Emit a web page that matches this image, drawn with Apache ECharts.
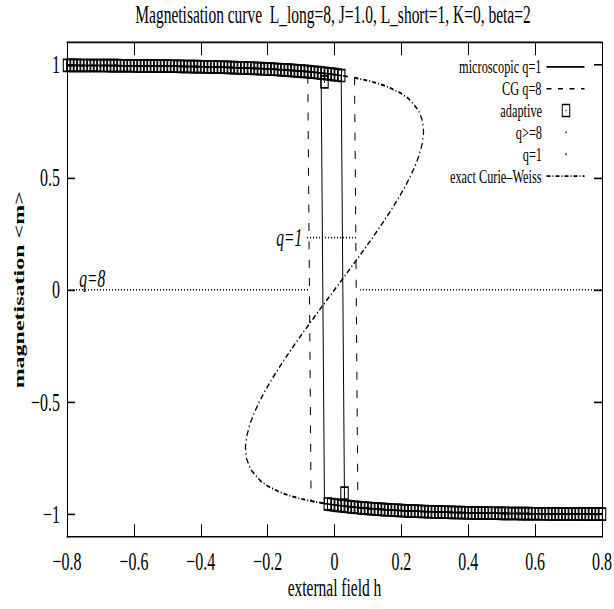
<!DOCTYPE html>
<html><head><meta charset="utf-8">
<script src="https://cdn.jsdelivr.net/npm/echarts@6/dist/echarts.min.js"></script>
<style>
html,body{margin:0;padding:0;background:#fff;overflow:hidden;width:614px;height:609px}
#c{width:614px;height:381px;transform:scaleY(1.6);transform-origin:0 0}
</style>
</head><body><div id="c"></div>
<script>
// ---------- data ----------
const xTicks = [-0.8,-0.6,-0.4,-0.2,0,0.2,0.4,0.6,0.8];
const xTickLabels = ['\u22120.8','\u22120.6','\u22120.4','\u22120.2','0','0.2','0.4','0.6','0.8'];
const yTicks = [-1,-0.5,0,0.5,1];
const yTickLabels = ['\u22121','\u22120.5','0','0.5','1'];

// upper (m ~ +1) branch
const hUpper = [-0.80,-0.79,-0.78,-0.77,-0.76,-0.75,-0.74,-0.73,-0.72,-0.71,-0.70,-0.69,-0.68,-0.67,-0.66,-0.65,-0.64,-0.63,-0.62,-0.61,-0.60,-0.59,-0.58,-0.57,-0.56,-0.55,-0.54,-0.53,-0.52,-0.51,-0.50,-0.49,-0.48,-0.47,-0.46,-0.45,-0.44,-0.43,-0.42,-0.41,-0.40,-0.39,-0.38,-0.37,-0.36,-0.35,-0.34,-0.33,-0.32,-0.31,-0.30,-0.29,-0.28,-0.27,-0.26,-0.25,-0.24,-0.23,-0.22,-0.21,-0.20,-0.19,-0.18,-0.17,-0.16,-0.15,-0.14,-0.13,-0.12,-0.11,-0.10,-0.09,-0.08,-0.07,-0.06,-0.05,-0.04,-0.03,-0.02,-0.01,0.00,0.01,0.02,0.03,0.04,0.05,0.06,0.07];
const mUpper = [0.9985,0.9984,0.9983,0.9983,0.9982,0.9982,0.9981,0.9980,0.9979,0.9979,0.9978,0.9977,0.9976,0.9975,0.9974,0.9973,0.9971,0.9970,0.9969,0.9967,0.9966,0.9964,0.9963,0.9961,0.9960,0.9959,0.9957,0.9955,0.9953,0.9951,0.9950,0.9948,0.9945,0.9943,0.9941,0.9938,0.9935,0.9933,0.9930,0.9927,0.9924,0.9921,0.9917,0.9914,0.9910,0.9907,0.9903,0.9898,0.9894,0.9890,0.9885,0.9880,0.9875,0.9870,0.9864,0.9858,0.9852,0.9846,0.9839,0.9832,0.9825,0.9817,0.9809,0.9801,0.9792,0.9783,0.9773,0.9763,0.9753,0.9742,0.9730,0.9718,0.9705,0.9691,0.9677,0.9662,0.9646,0.9630,0.9612,0.9594,0.9575,0.9554,0.9532,0.9510,0.9485,0.9458,0.9432,0.9402];

// lower (m ~ -1) branch
const hLower = [-0.07,-0.06,-0.05,-0.04,-0.03,-0.02,-0.01,0.00,0.01,0.02,0.03,0.04,0.05,0.06,0.07,0.08,0.09,0.10,0.11,0.12,0.13,0.14,0.15,0.16,0.17,0.18,0.19,0.20,0.21,0.22,0.23,0.24,0.25,0.26,0.27,0.28,0.29,0.30,0.31,0.32,0.33,0.34,0.35,0.36,0.37,0.38,0.39,0.40,0.41,0.42,0.43,0.44,0.45,0.46,0.47,0.48,0.49,0.50,0.51,0.52,0.53,0.54,0.55,0.56,0.57,0.58,0.59,0.60,0.61,0.62,0.63,0.64,0.65,0.66,0.67,0.68,0.69,0.70,0.71,0.72,0.73,0.74,0.75,0.76,0.77,0.78,0.79,0.80];
const mLower = [-0.9402,-0.9432,-0.9458,-0.9485,-0.9510,-0.9532,-0.9554,-0.9575,-0.9594,-0.9612,-0.9630,-0.9646,-0.9662,-0.9677,-0.9691,-0.9705,-0.9718,-0.9730,-0.9742,-0.9753,-0.9763,-0.9773,-0.9783,-0.9792,-0.9801,-0.9809,-0.9817,-0.9825,-0.9832,-0.9839,-0.9846,-0.9852,-0.9858,-0.9864,-0.9870,-0.9875,-0.9880,-0.9885,-0.9890,-0.9894,-0.9898,-0.9903,-0.9907,-0.9910,-0.9914,-0.9917,-0.9921,-0.9924,-0.9927,-0.9930,-0.9933,-0.9935,-0.9938,-0.9941,-0.9943,-0.9945,-0.9948,-0.9950,-0.9951,-0.9953,-0.9955,-0.9957,-0.9959,-0.9960,-0.9961,-0.9963,-0.9964,-0.9966,-0.9967,-0.9969,-0.9970,-0.9971,-0.9973,-0.9974,-0.9975,-0.9976,-0.9977,-0.9978,-0.9979,-0.9979,-0.9980,-0.9981,-0.9982,-0.9982,-0.9983,-0.9983,-0.9984,-0.9985];

// switching fields of each sweep
const microUpLast = 0.02, microDownLast = -0.03;
const cgUpLast = 0.06, cgDownLast = -0.07;
const adaptUpLast = 0.02, adaptDownLast = -0.02;
const adaptJumpH = [0.03, -0.03];
const adaptJumpM = [-0.905, 0.925];

// exact Curie-Weiss curve
const cwH = [-0.0341,-0.0710,-0.1008,-0.1255,-0.1463,-0.1639,-0.1980,-0.2219,-0.2507,-0.2635,-0.2664,-0.2624,-0.2534,-0.2408,-0.2254,-0.2077,-0.1882,-0.1673,-0.1452,-0.1223,-0.0986,-0.0744,-0.0498,-0.0250,0,0.0250,0.0498,0.0744,0.0986,0.1223,0.1452,0.1673,0.1882,0.2077,0.2254,0.2408,0.2534,0.2624,0.2664,0.2635,0.2507,0.2219,0.1980,0.1639,0.1463,0.1255,0.1008,0.0710,0.0536];
const cwM = [-0.95,-0.94,-0.93,-0.92,-0.91,-0.90,-0.875,-0.85,-0.80,-0.75,-0.70,-0.65,-0.60,-0.55,-0.50,-0.45,-0.40,-0.35,-0.30,-0.25,-0.20,-0.15,-0.10,-0.05,0,0.05,0.10,0.15,0.20,0.25,0.30,0.35,0.40,0.45,0.50,0.55,0.60,0.65,0.70,0.75,0.80,0.85,0.875,0.90,0.91,0.92,0.93,0.94,0.945];

// dotted q regions
const q8LeftH = [-0.8, -0.078], q8RightH = [0.076, 0.8], q8M = [0, 0];
const q1H = [-0.082, 0.070], q1M = [0.232, 0.232];

// in-plot labels
const noteTexts = ['q=8', 'q=1'];
const noteH = [-0.763, -0.0964];
const noteM = [0.05, 0.232];

const seriesNames = ['microscopic q=1','CG q=8','adaptive','q>=8','q=1','exact Curie\u2013Weiss'];

// ---------- build ----------
const EPS = 1e-6;
function pts(hs, ms, lo, hi) {
  const out = [];
  for (let i = 0; i < hs.length; i++) if (hs[i] >= lo - EPS && hs[i] <= hi + EPS) out.push([hs[i], ms[i]]);
  return out;
}
const microUp = pts(hUpper, mUpper, -0.8, microUpLast).concat(pts(hLower, mLower, microUpLast + 0.01, 0.8));
const microDown = pts(hLower, mLower, microDownLast, 0.8).reverse().concat(pts(hUpper, mUpper, -0.8, microDownLast - 0.01).reverse());
const cgUp = pts(hUpper, mUpper, -0.8, cgUpLast).concat(pts(hLower, mLower, cgUpLast + 0.01, 0.8));
const cgDown = pts(hLower, mLower, cgDownLast, 0.8).reverse().concat(pts(hUpper, mUpper, -0.8, cgDownLast - 0.01).reverse());
const adaptive = pts(hUpper, mUpper, -0.8, adaptUpLast)
  .concat(adaptJumpH.map((h, i) => [h, adaptJumpM[i]]))
  .concat(pts(hLower, mLower, adaptDownLast, 0.8));
const cw = cwH.map((h, i) => [h, cwM[i]]);

const FONT = "'Liberation Serif','Times New Roman',Times,serif";
const FS = 15.5;
const LFS = 12.3;
const BLACK = '#000';
const boxPath = 'path://M0,0H8V8H0Z M1,1V7H7V1Z M3.5,3.5H4.5V4.5H3.5Z';
// legend icons that span the full 38-wide icon box (tiny corner specks fix the box)
const boxLegendIcon = 'path://M0,0h0.01v0.01h-0.01Z M37.99,8.49h0.01v0.01h-0.01Z M14.75,0H23.25V8.5H14.75Z M15.75,1V7.5H22.25V1Z M18.5,3.75H19.5V4.75H18.5Z';
const dotLegendIcon = 'path://M0,0h0.01v0.01h-0.01Z M37.99,1.99h0.01v0.01h-0.01Z M18.4,0.4H19.6V1.6H18.4Z';
const dashCG = [5, 6.5];
const dashCW = [4, 2, 1, 2];
const dotted = [1, 2];

function lineSeries(name, data, type, width) {
  return {
    type: 'line', name, data, symbol: 'none', showSymbol: false, smooth: false,
    lineStyle: {color: BLACK, width: width || 1, type: type || 'solid'},
    itemStyle: {color: BLACK}, emphasis: {disabled: true}, silent: true, clip: false, z: 2
  };
}

function fmtFrom(ticks, labels) {
  return v => { for (let i = 0; i < ticks.length; i++) if (Math.abs(ticks[i] - v) < 1e-6) return labels[i]; return ''; };
}

const axisCommon = {
  axisLine: {show: true, onZero: false, lineStyle: {color: BLACK, width: 1}},
  axisTick: {show: true, inside: true, length: 8, lineStyle: {color: BLACK, width: 1}},
  splitLine: {show: false},
  minorTick: {show: false}
};

const legendTops = [35.8, 49.45, 63.1, 76.75, 90.4, 104.05];
function legendFor(i, extra) {
  return Object.assign({
    data: [seriesNames[i]], orient: 'vertical', align: 'right', right: 29, top: legendTops[i],
    itemWidth: 38, itemHeight: 8, itemGap: 0, padding: 0, selectedMode: false,
    lineStyle: {width: 1},
    textStyle: {fontFamily: FONT, fontSize: LFS, color: BLACK, lineHeight: 12}
  }, extra || {});
}

const option = {
  animation: false,
  backgroundColor: '#fff',
  title: {
    text: 'Magnetisation curve  L_long=8, J=1.0, L_short=1, K=0, beta=2',
    left: 333, top: 1.4, textAlign: 'center', padding: 0,
    textStyle: {fontFamily: FONT, fontSize: FS, fontWeight: 'normal', color: BLACK, lineHeight: 16}
  },
  grid: {left: 67, top: 26.6, width: 535, height: 309, containLabel: false, outerBoundsMode: 'none'},
  xAxis: [
    Object.assign({}, axisCommon, {
      type: 'value', position: 'bottom', min: -0.8, max: 0.8, interval: 0.2,
      axisTick: Object.assign({}, axisCommon.axisTick, {customValues: xTicks}),
      axisLabel: {customValues: xTicks, formatter: fmtFrom(xTicks, xTickLabels), color: BLACK, fontFamily: FONT, fontSize: 16, margin: 9.5, lineHeight: 12},
      name: 'external field h', nameLocation: 'middle', nameGap: 23.5, nameMoveOverlap: false,
      nameTextStyle: {fontFamily: FONT, fontSize: FS, color: BLACK, lineHeight: 16}
    }),
    Object.assign({}, axisCommon, {
      type: 'value', position: 'top', min: -0.8, max: 0.8, interval: 0.2,
      axisTick: Object.assign({}, axisCommon.axisTick, {customValues: xTicks}),
      axisLabel: {show: false}
    })
  ],
  yAxis: [
    Object.assign({}, axisCommon, {
      type: 'value', position: 'left', min: -1.1, max: 1.1,
      axisTick: Object.assign({}, axisCommon.axisTick, {customValues: yTicks}),
      axisLabel: {customValues: yTicks, formatter: fmtFrom(yTicks, yTickLabels), color: BLACK, fontFamily: FONT, fontSize: 16, margin: 7},
      name: 'magnetisation <m>', nameLocation: 'middle', nameGap: 40, nameRotate: 90, nameMoveOverlap: false,
      nameTextStyle: {fontFamily: FONT, fontSize: 15, fontWeight: 'bold', color: BLACK, lineHeight: 16}
    }),
    Object.assign({}, axisCommon, {
      type: 'value', position: 'right', min: -1.1, max: 1.1,
      axisTick: Object.assign({}, axisCommon.axisTick, {customValues: yTicks}),
      axisLabel: {show: false}
    })
  ],
  legend: [
    legendFor(0, {itemStyle: {opacity: 0}}),
    legendFor(1, {itemStyle: {opacity: 0}}),
    legendFor(2, {icon: boxLegendIcon, itemHeight: 8.5, itemStyle: {color: BLACK, opacity: 1}}),
    legendFor(3, {icon: dotLegendIcon, itemHeight: 2, itemStyle: {color: BLACK, opacity: 1}}),
    legendFor(4, {icon: dotLegendIcon, itemHeight: 2, itemStyle: {color: BLACK, opacity: 1}}),
    legendFor(5, {itemStyle: {opacity: 0}})
  ],
  series: [
    lineSeries(seriesNames[0], microUp),
    lineSeries(seriesNames[0], microDown),
    lineSeries(seriesNames[1], cgUp, dashCG),
    lineSeries(seriesNames[1], cgDown, dashCG),
    {
      type: 'scatter', name: seriesNames[2], data: adaptive, symbol: boxPath, symbolSize: 8.5,
      symbolKeepAspect: true, itemStyle: {color: BLACK, opacity: 1, borderWidth: 0},
      emphasis: {disabled: true}, silent: true, clip: false, z: 3
    },
    lineSeries(seriesNames[3], q8LeftH.map((h, i) => [h, q8M[i]]), dotted),
    lineSeries(seriesNames[3], q8RightH.map((h, i) => [h, q8M[i]]), dotted),
    lineSeries(seriesNames[4], q1H.map((h, i) => [h, q1M[i]]), dotted),
    lineSeries(seriesNames[5], cw, dashCW, 1.2),
    {
      type: 'scatter', name: 'notes', symbolSize: 0, silent: true, clip: false, z: 4,
      itemStyle: {opacity: 1, color: BLACK},
      data: noteTexts.map((t, i) => ({
        value: [noteH[i], noteM[i]], name: t,
        label: {position: i === 0 ? 'right' : 'left'}
      })),
      label: {show: true, formatter: p => p.name, distance: 0, color: BLACK, opacity: 1,
        fontFamily: FONT, fontSize: FS, fontStyle: 'italic', verticalAlign: 'middle'}
    }
  ]
};

const chart = echarts.init(document.getElementById('c'), null, {renderer: 'svg', width: 614, height: 381});
chart.setOption(option);
</script>
</body></html>
